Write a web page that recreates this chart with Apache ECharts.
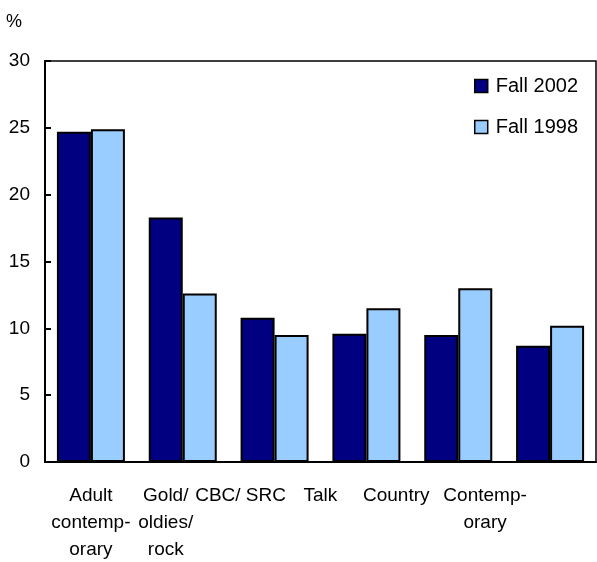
<!DOCTYPE html>
<html>
<head>
<meta charset="utf-8">
<script src="https://cdn.jsdelivr.net/npm/echarts@6/dist/echarts.min.js"></script>
<style>
    html, body { margin: 0; padding: 0; background: #fff; }
    #main { width: 597px; height: 562px; }
</style>
</head>
<body>
<div id="main"></div>
<script>
var categories = ['Adult\ncontemp-\norary', 'Gold/\noldies/\nrock', 'CBC/ SRC', 'Talk', 'Country', 'Contemp-\norary'];
var fall2002 = [24.7, 18.3, 10.8, 9.6, 9.5, 8.7];
var fall1998 = [24.9, 12.6, 9.5, 11.5, 13.0, 10.2];
var yTicks = [0, 5, 10, 15, 20, 25, 30];

// the original labels drift left of their category centre
var labelShift = [0, 34, 68, 92, 124, 130];

var mychart = echarts.init(document.getElementById('main'));
var font = 'Liberation Sans, Arial, sans-serif';

var rich = {};
labelShift.forEach(function (s, i) {
    rich['s' + i] = {
        fontFamily: font,
        fontSize: 19,
        color: '#000',
        lineHeight: 27,
        padding: [0, s, 0, 0]
    };
});

var option = {
    animation: false,
    backgroundColor: '#fff',
    graphic: [{
        type: 'text',
        left: 6,
        top: 13,
        style: { text: '%', font: '18px ' + font, fill: '#000' }
    }],
    legend: {
        right: 14,
        top: 71,
        orient: 'vertical',
        icon: 'rect',
        itemWidth: 13,
        itemHeight: 13,
        itemGap: 21,
        itemStyle: { borderColor: '#000', borderWidth: 1.5 },
        textStyle: { fontFamily: font, fontSize: 20, color: '#000', padding: [0, 0, 0, 3] },
        data: ['Fall 2002', 'Fall 1998']
    },
    grid: {
        left: 45,
        right: 1,
        top: 61,
        bottom: 100,
        outerBoundsMode: 'none',
        containLabel: false,
        show: true,
        borderColor: '#000',
        borderWidth: 1.5
    },
    xAxis: {
        type: 'category',
        data: categories,
        axisLine: { lineStyle: { color: '#000', width: 2 } },
        axisTick: { show: false },
        axisLabel: {
            interval: 0,
            margin: 20,
            formatter: function (value, idx) {
                return value.split('\n').map(function (line) {
                    return '{s' + idx + '|' + line + '}';
                }).join('\n');
            },
            rich: rich
        }
    },
    yAxis: {
        type: 'value',
        min: 0,
        max: 30,
        interval: 5,
        splitLine: { show: false },
        axisLine: { show: true, lineStyle: { color: '#000', width: 2 } },
        axisTick: { show: true, inside: true, length: 6, lineStyle: { color: '#000', width: 2 } },
        axisLabel: {
            margin: 15,
            fontFamily: font,
            fontSize: 19,
            color: '#000',
            customValues: yTicks
        }
    },
    series: [{
        name: 'Fall 2002',
        type: 'bar',
        data: fall2002,
        barWidth: 34,
        barGap: '0%',
        itemStyle: { color: '#000080', borderColor: '#000', borderWidth: 2 }
    }, {
        name: 'Fall 1998',
        type: 'bar',
        data: fall1998,
        barWidth: 34,
        itemStyle: { color: '#99ccff', borderColor: '#000', borderWidth: 2 }
    }]
};

mychart.setOption(option);
</script>
</body>
</html>
